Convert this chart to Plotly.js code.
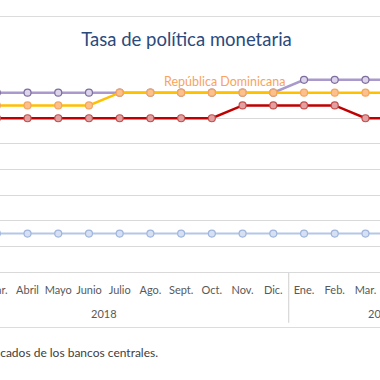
<!DOCTYPE html>
<html>
<head>
<meta charset="utf-8">
<script src="https://cdn.plot.ly/plotly-3.0.1.min.js"></script>
<style>
html,body{margin:0;padding:0;width:380px;height:380px;overflow:hidden;background:#fff;}
#chart{position:absolute;left:-80px;top:0;width:553px;height:380px;}
.rule{position:absolute;left:0;width:380px;height:0;border-top:1px solid #DCDCDC;z-index:5;}
</style>
</head>
<body>
<div id="chart"></div>
<div class="rule" style="top:16px"></div>
<div class="rule" style="top:327px"></div>
<script>
const years = ['2018','2018','2018','2018','2018','2018','2018','2018','2018','2018','2018','2018','2019','2019','2019','2019','2019','2019'];
const months = ['Ene.','Feb.','Mar.','Abril','Mayo','Junio','Julio','Ago.','Sept.','Oct.','Nov.','Dic.','Ene.','Feb.','Mar.','Abril','Mayo','Junio'];
const honduras = [5.50,5.50,5.50,5.50,5.50,5.50,5.50,5.50,5.50,5.50,5.50,5.50,5.75,5.75,5.75,5.75,5.75,5.75];
const repDominicana = [5.25,5.25,5.25,5.25,5.25,5.25,5.50,5.50,5.50,5.50,5.50,5.50,5.50,5.50,5.50,5.50,5.50,5.50];
const costaRica = [5.00,5.00,5.00,5.00,5.00,5.00,5.00,5.00,5.00,5.00,5.25,5.25,5.25,5.25,5.00,5.00,5.00,5.00];
const guatemala = [2.75,2.75,2.75,2.75,2.75,2.75,2.75,2.75,2.75,2.75,2.75,2.75,2.75,2.75,2.75,2.75,2.75,2.75];

const idx = months.map((m, i) => i);
function tr(name, y, lc, mf, ml, lw) {
  return {x: idx, y: y, name: name, type: 'scatter', mode: 'lines+markers',
    line: {color: lc, width: lw},
    marker: {size: 7, color: mf, line: {color: ml, width: 1.2}}};
}
const data = [
  tr('Guatemala', guatemala, '#B4C7E7', '#D6E0F2', '#9FB6DD', 2),
  tr('Costa Rica', costaRica, '#C00000', '#E3A0A0', '#C0504D', 2.5),
  tr('Honduras', honduras, '#A999CC', '#DCD4EA', '#7E6E9E', 2.5),
  tr('República Dominicana', repDominicana, '#FFC000', '#FBC08C', '#F4A460', 2.5)
];

// year groups: label at group centre, dividers at group boundaries
const groups = [];
years.forEach((y, i) => {
  const g = groups.find(o => o.year === y);
  if (g) { g.last = i; } else { groups.push({year: y, first: i, last: i}); }
});
const yearAnn = groups.map(g => ({
  text: g.year, xref: 'x', yref: 'paper', x: (g.first + g.last) / 2, y: -0.201,
  xanchor: 'center', yanchor: 'middle', showarrow: false,
  font: {family: 'Lato, "Liberation Sans", sans-serif', size: 11, color: '#595959'}
}));
const dividers = [];
groups.forEach(g => {
  [g.first - 0.5, g.last + 0.5].forEach(b => {
    dividers.push({type: 'line', xref: 'x', yref: 'paper', x0: b, x1: b, y0: 0, y1: -0.247,
      line: {color: '#D9D9D9', width: 1}});
  });
});

const layout = {
  width: 553, height: 380,
  margin: {l: 0, r: 0, t: 67, b: 108},
  paper_bgcolor: '#fff', plot_bgcolor: '#fff',
  showlegend: false,
  title: {text: 'Tasa de política monetaria', x: 0.482, xanchor: 'center', xref: 'container',
    y: 0.895, yanchor: 'middle', yref: 'container',
    font: {family: 'Lato, "Noto Sans", sans-serif', size: 18.5, color: '#2B4A7C'}},
  xaxis: {range: [-0.5, 17.5], showgrid: false, zeroline: false, ticks: '', tickangle: 0,
    tickvals: idx, ticktext: months, ticklabelstandoff: 8,
    showline: true, linecolor: '#D9D9D9', linewidth: 1,
    tickfont: {family: 'Lato, "Liberation Sans", sans-serif', size: 11, color: '#595959'}},
  yaxis: {range: [2, 6], dtick: 0.5, showgrid: true, gridcolor: '#D9D9D9', gridwidth: 1,
    zeroline: false, showticklabels: false, ticks: ''},
  shapes: dividers,
  annotations: [
    {text: 'República Dominicana', xref: 'paper', yref: 'paper', x: 0.551, y: 0.928,
      xanchor: 'center', yanchor: 'middle', showarrow: false,
      font: {family: 'Lato, "Noto Sans", sans-serif', size: 12.5, color: '#F9A35B'}},
    {text: 'Fuente: elaboración propia con base en comunicados de los bancos centrales.', xref: 'paper', yref: 'paper',
      x: 0.434, y: -0.395, xanchor: 'right', yanchor: 'middle', showarrow: false,
      font: {family: 'Lato, "Noto Sans", sans-serif', size: 12, color: '#404040'}}
  ].concat(yearAnn)
};
Plotly.newPlot('chart', data, layout, {staticPlot: true, displayModeBar: false});
</script>
</body>
</html>
